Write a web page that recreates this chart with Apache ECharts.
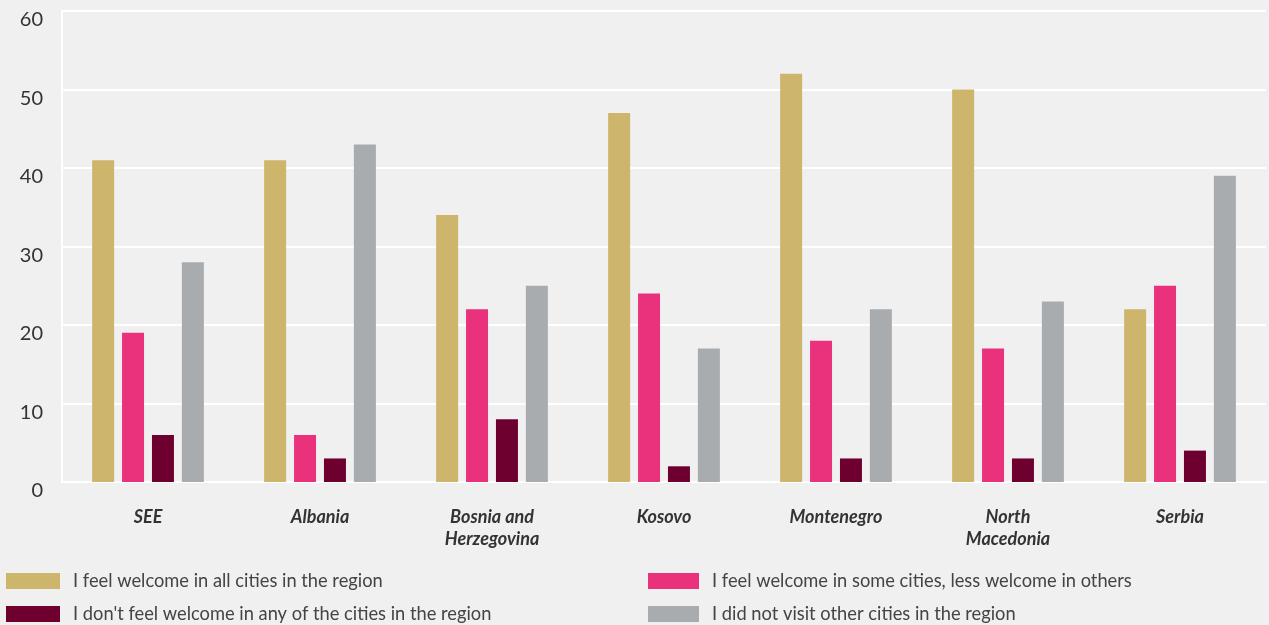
<!DOCTYPE html>
<html>
<head>
<meta charset="utf-8">
<script src="https://cdn.jsdelivr.net/npm/echarts@6/dist/echarts.min.js"></script>
<style>
html, body { margin: 0; padding: 0; background: #f0f0f0; }
#main { width: 1269px; height: 625px; }
</style>
</head>
<body>
<div id="main"></div>
<script>
// categories and series
var countries = ['SEE', 'Albania', 'Bosnia and\nHerzegovina', 'Kosovo', 'Montenegro', 'North\nMacedonia', 'Serbia'];
var names = [
	'I feel welcome in all cities in the region',
	'I feel welcome in some cities, less welcome in others',
	"I don't feel welcome in any of the cities in the region",
	'I did not visit other cities in the region'
];
var welcomeAll = [41, 41, 34, 47, 52, 50, 22];
var welcomeSome = [19, 6, 22, 24, 18, 17, 25];
var notWelcome = [6, 3, 8, 2, 3, 3, 4];
var notVisited = [28, 43, 25, 17, 22, 23, 39];
var colors = ['#cdb56c', '#ea317b', '#6e0030', '#a9acaf'];

var myChart = echarts.init(document.getElementById('main'));
var font = 'Lato';

function bar(i, data) {
	return {
		name : names[i],
		type : 'bar',
		data : data,
		barWidth : 22,
		barGap : '36%',
		itemStyle : { color : colors[i] }
	};
}

// one legend per item so the 2x2 layout is fixed
function legendItem(i, left, top, w) {
	return {
		data : [ names[i] ],
		left : left,
		top : top,
		itemWidth : w,
		itemHeight : 16,
		icon : 'rect',
		textStyle : { fontSize : 18.3, color : '#444', fontFamily : font, padding : [0, 0, 0, 8] }
	};
}

myChart.setOption({
	backgroundColor : '#f0f0f0',
	animation : false,
	color : colors,
	textStyle : { fontFamily : font },
	grid : { left : 62, right : 3, top : 11, bottom : 143 },
	legend : [
		legendItem(0, 1, 567, 54),
		legendItem(2, 1, 600, 54),
		legendItem(1, 643, 567, 51),
		legendItem(3, 643, 600, 51)
	],
	xAxis : {
		type : 'category',
		data : countries,
		axisLine : { lineStyle : { color : '#ffffff', width : 2 } },
		axisTick : { inside : true, length : 12, lineStyle : { color : '#ffffff', width : 2 } },
		axisLabel : {
			interval : 0,
			margin : 24,
			fontSize : 18,
			fontWeight : 'bold',
			fontStyle : 'italic',
			color : '#333',
			lineHeight : 22,
			fontFamily : font
		}
	},
	yAxis : {
		type : 'value',
		min : 0,
		max : 60,
		interval : 10,
		axisLine : { show : true, lineStyle : { color : '#ffffff', width : 2 } },
		splitLine : { lineStyle : { color : '#ffffff', width : 2 } },
		axisLabel : { fontSize : 20, color : '#333', margin : 19, verticalAlign : 'top', lineHeight : 18, fontFamily : font }
	},
	series : [
		bar(0, welcomeAll),
		bar(1, welcomeSome),
		bar(2, notWelcome),
		bar(3, notVisited)
	]
});
</script>
</body>
</html>
